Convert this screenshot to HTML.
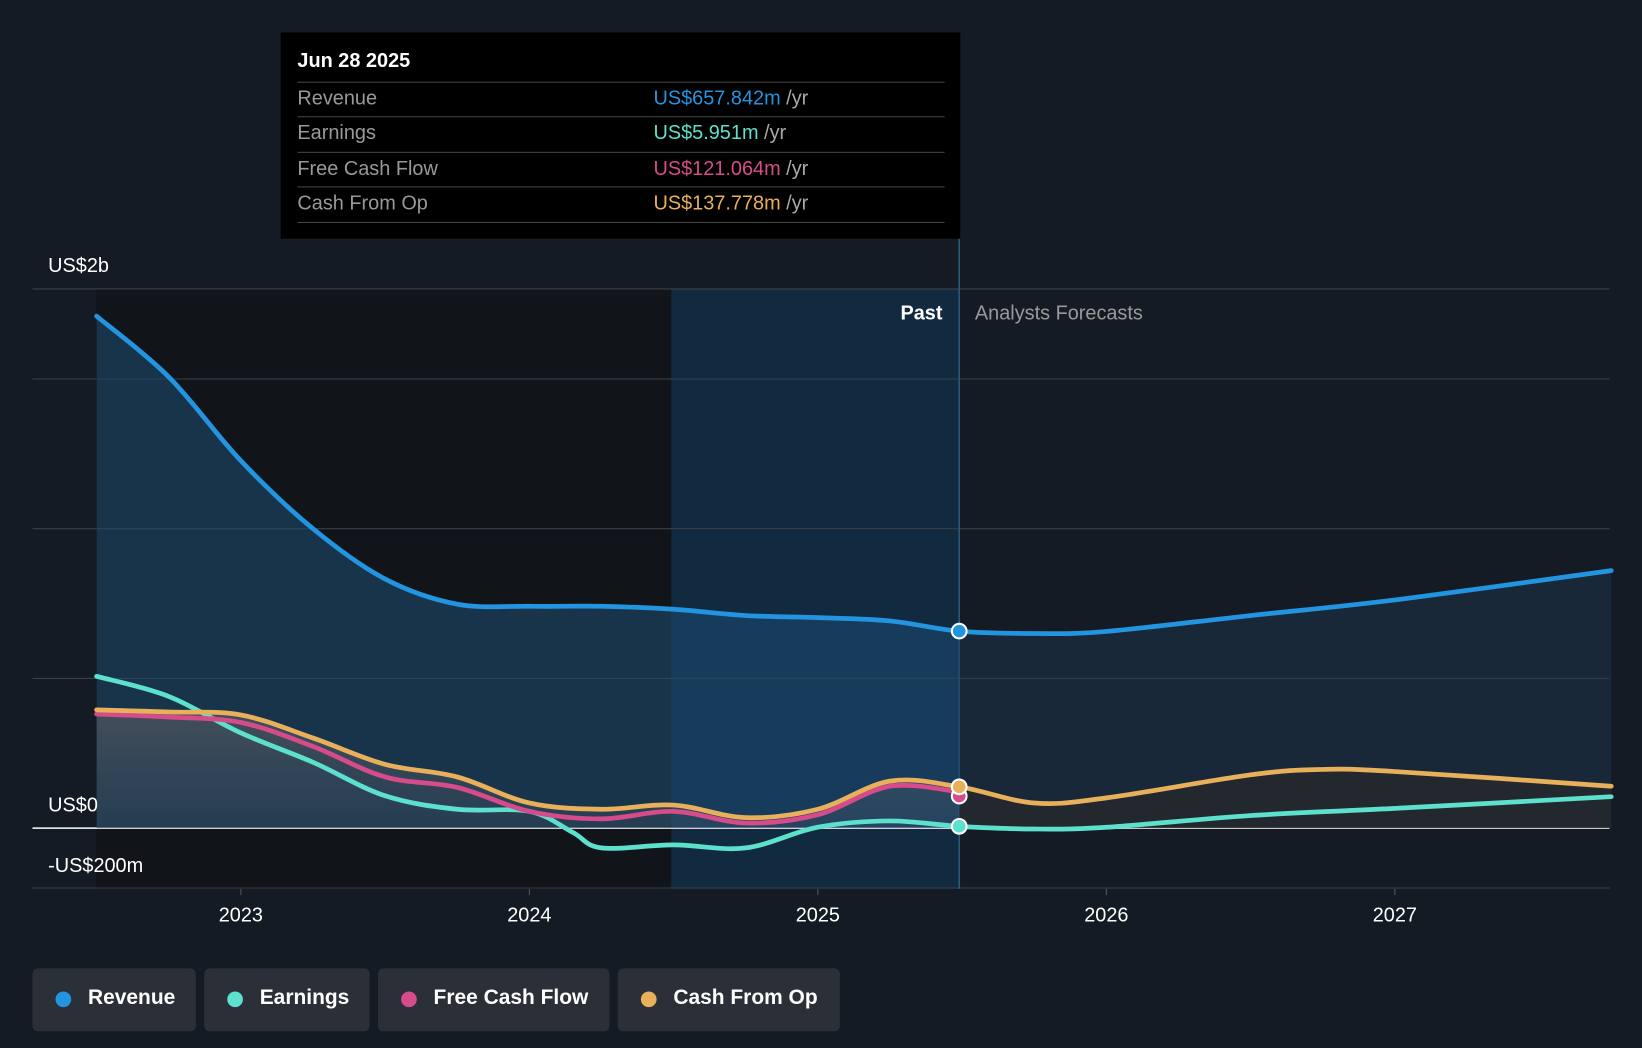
<!DOCTYPE html>
<html><head><meta charset="utf-8"><style>
html,body{margin:0;padding:0;background:#151b24;width:1642px;height:1048px;overflow:hidden;font-family:"Liberation Sans",Roboto,sans-serif}
#wrap{position:absolute;left:0;top:0;width:1568px;height:1001px;transform:scale(1.04719,1.04695);transform-origin:0 0}
.tip{position:absolute;left:268px;top:31px;width:649px;height:197px;background:#000}
.tip .d{position:absolute;left:16px;top:17px;color:#fff;font-size:19px;font-weight:bold}
.row{position:absolute;left:16px;width:618px;height:33px;border-top:1px solid #444;font-size:19px;color:#999}
.row span.v{position:absolute;left:340px;top:5px}
.row span.l{position:absolute;left:0;top:5px}
.row .u{color:#aaa}
.leg{position:absolute;top:925px;height:60px;background:#2a2f38;border-radius:5px;color:#fff;font-size:20px;font-weight:bold}
.leg i{position:absolute;left:22px;top:22px;width:15px;height:15px;border-radius:50%}
.leg span{position:absolute;left:53px;top:17px}
</style></head><body>
<div id="wrap">
<svg id="chart" width="1568" height="1001" style="position:absolute;left:0;top:0"></svg>
<div class="tip">
<div class="d">Jun 28 2025</div>
<div class="row" style="top:47px"><span class="l">Revenue</span><span class="v"><b style="color:#2394e0;font-weight:normal">US$657.842m</b> <span class="u">/yr</span></span></div>
<div class="row" style="top:80px"><span class="l">Earnings</span><span class="v"><b style="color:#5de0cc;font-weight:normal">US$5.951m</b> <span class="u">/yr</span></span></div>
<div class="row" style="top:114px"><span class="l">Free Cash Flow</span><span class="v"><b style="color:#d64c8a;font-weight:normal">US$121.064m</b> <span class="u">/yr</span></span></div>
<div class="row" style="top:147px;border-bottom:1px solid #444"><span class="l">Cash From Op</span><span class="v"><b style="color:#e8b05a;font-weight:normal">US$137.778m</b> <span class="u">/yr</span></span></div>
</div>
<div class="leg" style="left:31px;width:156px"><i style="background:#2394e0"></i><span>Revenue</span></div>
<div class="leg" style="left:195px;width:158px"><i style="background:#5de0cc"></i><span>Earnings</span></div>
<div class="leg" style="left:361px;width:221px"><i style="background:#d64c8a"></i><span>Free Cash Flow</span></div>
<div class="leg" style="left:590px;width:212px"><i style="background:#e8b05a"></i><span>Cash From Op</span></div>
</div>
<script>
const revT=[2022.5,2022.75,2023,2023.25,2023.5,2023.75,2024,2024.25,2024.5,2024.75,2025,2025.25,2025.49,2025.75,2026,2026.5,2027,2027.75];
const revV=[1710,1507,1227,1000,832,748,741,741,731,710,703,692,658,650,657,710,762,860];
const earnT=[2022.5,2022.75,2023,2023.25,2023.5,2023.75,2024,2024.15,2024.25,2024.5,2024.75,2025,2025.25,2025.49,2025.75,2026,2026.5,2027,2027.75];
const earnV=[507,440,318,220,108,63,56,-14,-66,-56,-66,3,24,6,-3,3,42,66,105];
const fcfT=[2022.5,2022.75,2023,2023.25,2023.5,2023.75,2024,2024.25,2024.5,2024.75,2025,2025.25,2025.49];
const fcfV=[381,371,353,273,171,136,56,31,56,17,45,140,121];
const cfoT=[2022.5,2022.75,2023,2023.25,2023.5,2023.75,2024,2024.25,2024.5,2024.75,2025,2025.25,2025.49,2025.75,2026,2026.5,2026.75,2027,2027.75];
const cfoV=[395,388,378,301,213,171,84,63,77,35,63,157,138,84,101,178,196,189,140];
const xTicks=[2023,2024,2025,2026,2027];
const gridVals=[1800,1500,1000,500,0,-200];
const NOW=2025.49;
const X=t=>230+(t-2023)*275.5, Y=v=>791-v*0.286;
const svg=document.getElementById('chart'),NS='http://www.w3.org/2000/svg';
function el(tag,attrs,parent){const e=document.createElementNS(NS,tag);for(const k in attrs)e.setAttribute(k,attrs[k]);(parent||svg).appendChild(e);return e;}
function path(T,V){const p=T.map((t,i)=>[X(t),Y(V[i])]);let d='M'+p[0];for(let i=0;i<p.length-1;i++){const p0=p[i-1]||p[i],p1=p[i],p2=p[i+1],p3=p[i+2]||p2;const c1=[p1[0]+(p2[0]-p0[0])/6,p1[1]+(p2[1]-p0[1])/6],c2=[p2[0]-(p3[0]-p1[0])/6,p2[1]-(p3[1]-p1[1])/6];d+=' C'+c1+' '+c2+' '+p2;}return d;}
const defs=el('defs',{});
const g1=el('linearGradient',{id:'gf',x1:0,y1:0,x2:0,y2:1},defs);
el('stop',{offset:0,'stop-color':'#8a7a72','stop-opacity':0.55},g1);el('stop',{offset:1,'stop-color':'#6a6a72','stop-opacity':0.25},g1);
const cpP=el('clipPath',{id:'cpPast'},defs);el('rect',{x:0,y:0,width:916,height:1001},cpP);
const cpF=el('clipPath',{id:'cpFut'},defs);el('rect',{x:916,y:0,width:700,height:1001},cpF);
let r=el('rect',{x:92,y:276,width:549,height:573,fill:'#111418'});
r=el('rect',{x:641,y:276,width:275,height:573,fill:'#112a40'});
gridVals.forEach(v=>{const yy=v===1800?276:Y(v);const l=el('line',{x1:31,x2:1537,y1:yy,y2:yy,stroke:v===0?'#fff':'#3a3f48','stroke-width':v===0?1.5:1});});
el('line',{x1:916,x2:916,y1:228,y2:849,stroke:'#2a5a7a','stroke-width':1.5});
const lastR=revT.length-1;
const revArea=path(revT,revV)+` L${X(revT[lastR])},${Y(0)} L${X(revT[0])},${Y(0)} Z`;
let a=el('path',{d:revArea,fill:'#1d4a6e','fill-opacity':0.6,'clip-path':'url(#cpPast)'});
a=el('path',{d:revArea,fill:'#1d3a55','fill-opacity':0.45,'clip-path':'url(#cpFut)'});
const cfoArea=path(cfoT,cfoV)+` L${X(cfoT[cfoT.length-1])},${Y(0)} L${X(cfoT[0])},${Y(0)} Z`;
a=el('path',{d:cfoArea,fill:'url(#gf)','fill-opacity':0.7,'clip-path':'url(#cpPast)'});
a=el('path',{d:cfoArea,fill:'#2a2a2a','fill-opacity':0.7,'clip-path':'url(#cpFut)'});
const series=[[earnT,earnV,'#5de0cc','earnings-line'],[fcfT,fcfV,'#d64c8a','fcf-line'],[cfoT,cfoV,'#e8b05a','cfo-line'],[revT,revV,'#2394e0','revenue-line']];
series.forEach(s=>{const p=el('path',{d:path(s[0],s[1]),fill:'none',stroke:s[2],'stroke-width':4.5,'stroke-linecap':'round'});});
[[fcfT,fcfV,'#d64c8a'],[cfoT,cfoV,'#e8b05a'],[earnT,earnV,'#5de0cc'],[revT,revV,'#2394e0']].forEach(s=>{const i=s[0].indexOf(NOW);const c=el('circle',{cx:X(NOW),cy:Y(s[1][i])+(s[2]==='#d64c8a'?4:0),r:7,fill:s[2],stroke:'#fff','stroke-width':2});});
function txt(x,y,s,o){const t=el('text',Object.assign({x:x,y:y,fill:'#fff','font-size':19,'font-family':'Liberation Sans, sans-serif'},o||{}));t.textContent=s;return t;}
let t=txt(46,260,'US$2b');
t=txt(46,775,'US$0');
t=txt(46,833,'-US$200m');
t=txt(900,305,'Past',{'text-anchor':'end','font-weight':'bold'});
t=txt(931,305,'Analysts Forecasts',{fill:'#999'});
xTicks.forEach(y=>{const l=el('line',{x1:X(y),x2:X(y),y1:849,y2:855,stroke:'#555'});const tt=txt(X(y),880,String(y),{'text-anchor':'middle','font-size':19});});
</script>
</body></html>
